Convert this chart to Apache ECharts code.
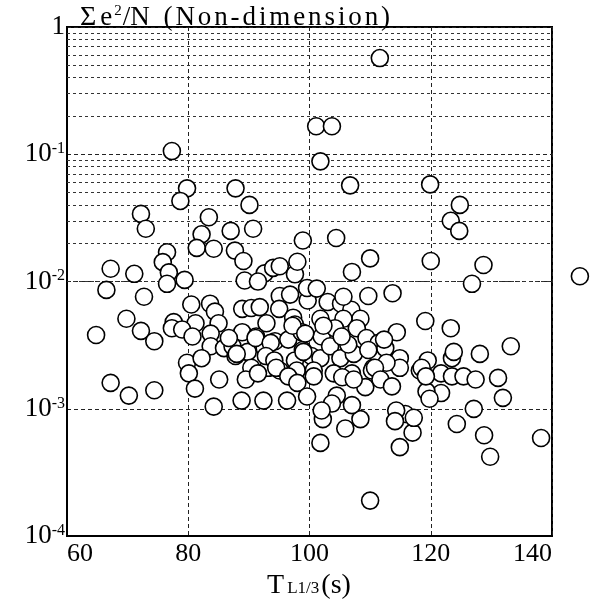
<!DOCTYPE html>
<html>
<head>
<meta charset="utf-8">
<script src="https://cdn.jsdelivr.net/npm/echarts@6/dist/echarts.min.js"></script>
<style>html,body{margin:0;padding:0;background:#fff}#c{width:591px;height:605px}</style>
</head>
<body>
<div id="c"></div>
<script>
// T_L1/3 (s) of each point
const tL = [
111.6,77.3,101.1,103.7,101.8,79.8,87.8,106.7,119.9,78.7,90.1,124.8,72.2,83.4,123.3,
73.0,87.0,90.7,124.7,82.2,98.9,104.4,81.4,84.2,76.5,87.7,75.8,89.1,110.0,120.0,128.7,
67.2,71.1,76.8,107.0,92.6,94.0,95.1,97.6,98.0,76.5,79.4,66.5,72.7,89.3,91.5,126.8,
113.7,109.7,95.1,96.8,99.7,99.6,101.2,103.0,105.2,106.9,105.6,
80.5,83.6,84.4,88.9,90.4,91.8,95.0,97.3,69.8,77.6,81.2,85.0,92.9,97.6,77.3,79.0,80.7,
72.2,64.8,74.4,83.7,83.7,88.9,91.2,94.3,96.5,98.7,85.9,87.3,87.8,89.8,92.6,98.9,
79.8,82.2,97.6,90.4,93.2,95.1,97.9,80.1,85.1,
91.1,86.7,88.0,93.6,92.8,94.2,100.3,97.2,
108.4,105.6,101.8,119.1,123.3,102.0,104.2,107.8,109.4,111.4,112.5,114.4,112.3,
99.3,99.0,101.8,103.4,105.1,107.3,109.7,106.4,105.3,102.3,
114.9,114.9,112.7,110.5,100.7,104.0,107.0,110.3,
133.2,128.1,123.5,123.8,119.5,118.2,121.7,123.5,125.4,127.4,131.1,
67.2,70.2,74.4,81.1,84.2,88.8,92.4,96.3,89.5,91.5,94.5,96.5,98.0,
110.0,129.8,138.2,128.8,124.3,127.1,131.9,121.7,119.3,119.8,
114.9,117.0,115.8,114.3,117.2,114.1,118.5,119.2,
108.4,107.0,105.9,102.2,101.8,110.8,
100.7,99.6,104.5,109.2,111.7,113.6,105.4,107.3,103.7,102.0,
144.6
];
// Σe²/N (non-dimension) of each point
const errN = [
0.57,0.106,0.166,0.166,0.088,0.054,0.054,0.057,0.058,0.043,0.040,0.040,0.034,0.032,0.030,
0.026,0.025,0.026,0.025,0.0235,0.021,0.022,0.0184,0.0181,0.017,0.0175,0.0142,0.0145,0.0152,0.0145,0.0135,
0.0126,0.0115,0.0118,0.0119,0.0116,0.0128,0.0132,0.0114,0.0143,0.0096,0.0103,0.0086,0.0076,0.0102,0.0100,0.0096,
0.0081,0.0077,0.0077,0.0079,0.0071,0.0089,0.0088,0.0069,0.0067,0.0060,0.0076,
0.0066,0.0067,0.0058,0.0061,0.0062,0.0063,0.0061,0.0052,0.0051,0.0048,0.0047,0.0047,0.0047,0.0046,0.0043,0.0042,0.0037,
0.0041,0.0038,0.0034,0.0039,0.0031,0.0040,0.0037,0.0034,0.0035,0.0040,0.0030,0.0031,0.0026,0.0028,0.0030,0.0029,
0.0023,0.0025,0.0024,0.0021,0.0021,0.0020,0.0020,0.0019,0.0017,
0.0036,0.0036,0.0027,0.0033,0.0026,0.0024,0.0026,0.0045,
0.0051,0.0051,0.0051,0.0049,0.0043,0.0037,0.0043,0.0043,0.0036,0.0033,0.0030,0.0040,0.0035,
0.0039,0.0028,0.0025,0.0031,0.0025,0.0027,0.0029,0.0032,0.0037,0.0045,
0.0025,0.0021,0.0023,0.0021,0.0020,0.0019,0.0019,0.0020,
0.0031,0.0027,0.0025,0.0028,0.0024,0.0020,0.0019,0.0018,0.0018,0.0017,0.00175,
0.0016,0.00127,0.0014,0.00144,0.00104,0.00116,0.00116,0.00116,0.0017,0.0019,0.0021,0.0018,0.0016,
0.00019,0.00042,0.00059,0.00062,0.00076,0.0010,0.00122,0.00133,0.00137,0.0012,
0.0005,0.00065,0.00091,0.00097,0.00085,0.0008,0.0021,0.0018,
0.00083,0.00107,0.0007,0.00083,0.00054,0.0021,
0.0018,0.00125,0.00127,0.00148,0.0017,0.0015,0.00177,0.0017,0.0011,0.00097,
0.011
];
const xTicks = [60, 80, 100, 120, 140];
const yTickLabels = {'1':'{b|1}','0.1':'{b|10}{s|-1}','0.01':'{b|10}{s|-2}','0.001':'{b|10}{s|-3}','0.0001':'{b|10}{s|-4}'};
const titleWord = '(Non-dimension)';

const pts = tL.map((x, i) => [x, errN[i]]);
const minorLines = [];
[1e-4, 1e-3, 1e-2, 1e-1].forEach(d => { for (let m = 2; m <= 9; m++) minorLines.push({ yAxis: +(d * m).toPrecision(3) }); });

const FONT = 'Liberation Serif';
const spaced = s => s.split('').map(c => '{l|' + c + '}').join('');
const chart = echarts.init(document.getElementById('c'), null, { renderer: 'canvas' });
chart.setOption({
  animation: false,
  backgroundColor: '#fff',
  title: {
    text: '{a|Σ}{b|e}{sup|2}{b|/N}{g| }' + spaced(titleWord),
    left: 75, top: -1,
    textStyle: {
      fontWeight: 'normal',
      rich: {
        a: { fontFamily: FONT, fontSize: 28, color: '#000', fontWeight: 'normal', padding: [0, 4, 0, 0] },
        b: { fontFamily: FONT, fontSize: 27, color: '#000', fontWeight: 'normal', padding: [0, 2, 0, 0] },
        sup: { fontFamily: FONT, fontSize: 15, color: '#000', fontWeight: 'normal', verticalAlign: 'top', padding: [0, 1, 0, 0] },
        g: { fontFamily: FONT, fontSize: 27, color: '#000', fontWeight: 'normal', padding: [0, 5, 0, 0] },
        l: { fontFamily: FONT, fontSize: 27, color: '#000', fontWeight: 'normal', padding: [0, 2.9, 0, 0] }
      }
    }
  },
  grid: { left: 67, right: 39, top: 27, bottom: 63, show: true, borderColor: '#000', borderWidth: 2 },
  xAxis: {
    type: 'value', min: 60, max: 140, interval: 20,
    name: '{a|T}{c|L1/3}{a|(s)}', nameLocation: 'middle', nameGap: 34,
    nameTextStyle: { rich: {
      a: { fontFamily: FONT, fontSize: 28, color: '#000', padding: [0, 1, 0, 0] },
      c: { fontFamily: FONT, fontSize: 17, color: '#000', verticalAlign: 'bottom', padding: [0, 2, 3, 2] }
    } },
    axisLine: { show: true, lineStyle: { color: '#000', width: 2 } },
    axisTick: { show: false },
    axisLabel: { fontFamily: FONT, fontSize: 26, color: '#000', margin: 5, alignMinLabel: 'left', alignMaxLabel: 'right',
      formatter: v => xTicks.includes(v) ? String(v) : '' },
    splitLine: { show: true, lineStyle: { color: '#222', type: [4, 3], width: 1 } }
  },
  yAxis: {
    type: 'log', logBase: 10, min: 1e-4, max: 1,
    axisLine: { show: true, lineStyle: { color: '#000', width: 2 } },
    axisTick: { show: false },
    axisLabel: {
      margin: 2, color: '#000',
      formatter: v => yTickLabels[String(+v.toPrecision(3))] || '',
      rich: {
        b: { fontFamily: FONT, fontSize: 27, color: '#000' },
        s: { fontFamily: FONT, fontSize: 16, color: '#000', verticalAlign: 'top' }
      }
    },
    splitLine: { show: true, lineStyle: { color: '#222', type: [4, 3], width: 1 } }
  },
  series: [{
    type: 'scatter',
    data: pts,
    clip: false,
    symbol: 'circle',
    symbolSize: 17,
    itemStyle: { color: '#fff', borderColor: '#000', borderWidth: 1.6, opacity: 1 },
    z: 3,
    markLine: {
      silent: true, symbol: ['none', 'none'], label: { show: false },
      lineStyle: { color: '#333', type: [3, 3], width: 1 },
      data: minorLines, z: 1
    }
  }]
});
</script>
</body>
</html>
